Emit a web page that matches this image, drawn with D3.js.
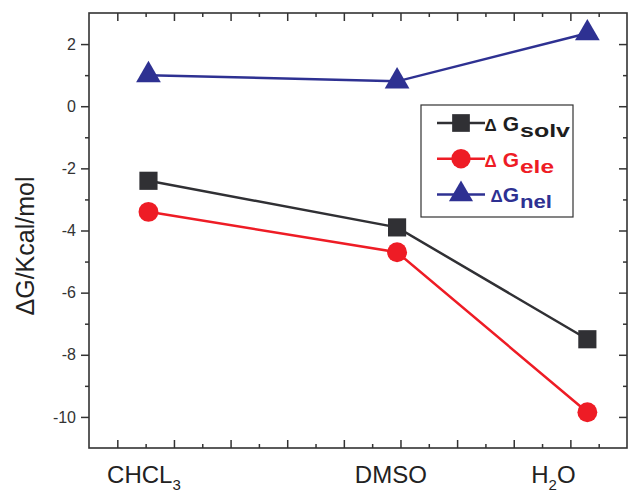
<!DOCTYPE html>
<html>
<head>
<meta charset="utf-8">
<script src="https://cdn.jsdelivr.net/npm/d3@7"></script>
<style>
  html, body { margin: 0; padding: 0; background: #fff; }
  svg { display: block; font-family: "Liberation Sans", Arial, Helvetica, sans-serif; }
</style>
</head>
<body>
<svg id="chart" width="631" height="492"></svg>
<script>
// Solvents, their positions along the x axis, and the axis label for each
const solvents = ["CHCL3", "DMSO", "H2O"];
const solventPos = [1.55, 5.94, 9.3];
const labelPos = [1.47, 5.83, 8.70];
const labelParts = [
  [["CHCL", 0], ["3", 1]],
  [["DMSO", 0]],
  [["H", 0], ["2", 1], ["O", 0]]
];

// Free energy components (kcal/mol)
const dGsolv = [-2.4, -3.9, -7.5];
const dGele = [-3.4, -4.7, -9.85];
const dGnel = [1.0, 0.8, 2.35];

// Axis ticks
const yMajor = [-10, -8, -6, -4, -2, 0, 2];
const yMinor = [-9, -7, -5, -3, -1, 1];
const xMajor = [1, 2, 3, 4, 5, 6, 7, 8, 9];
const xMinor = [1.5, 2.5, 3.5, 4.5, 5.5, 6.5, 7.5, 8.5, 9.5];

const series = [
  { name: "solv", prefix: "Δ G", values: dGsolv, color: "#303034", text: "#1e1e1e", symbol: d3.symbolSquare, size: 330, subLen: 50 },
  { name: "ele",  prefix: "Δ G", values: dGele,  color: "#ee1c25", text: "#ee1c25", symbol: d3.symbolCircle, size: 310, subLen: 34 },
  { name: "nel",  prefix: "ΔG",  values: dGnel,  color: "#2e3192", text: "#2e3192", symbol: d3.symbolTriangle, size: 265, subLen: 32 }
];

const svg = d3.select("#chart");
const L = 89, R = 627, T = 13, B = 448;
const axisColor = "#333";

const x = d3.scaleLinear().domain([0.5, 10]).range([L, R]);
const y = d3.scaleLinear().domain([-11, 3]).range([B, T]);

function styleAxis(g) {
  g.select(".domain").remove();
  g.selectAll(".tick line").attr("stroke", axisColor).attr("stroke-width", 1.5);
  g.selectAll(".tick text").attr("fill", axisColor).attr("font-size", 16)
    .attr("font-family", "'Liberation Sans', Arial, sans-serif");
}

// Left axis with labels (ticks outward), plain hyphen for negatives
svg.append("g").attr("transform", `translate(${L},0)`)
  .call(d3.axisLeft(y).tickValues(yMajor).tickSize(8).tickPadding(5).tickFormat(d => String(d)))
  .call(styleAxis);
svg.append("g").attr("transform", `translate(${L},0)`)
  .call(d3.axisLeft(y).tickValues(yMinor).tickSize(4).tickFormat(""))
  .call(styleAxis);

// Right axis mirror (ticks inward)
svg.append("g").attr("transform", `translate(${R},0)`)
  .call(d3.axisLeft(y).tickValues(yMajor).tickSize(8).tickFormat(""))
  .call(styleAxis);
svg.append("g").attr("transform", `translate(${R},0)`)
  .call(d3.axisLeft(y).tickValues(yMinor).tickSize(4).tickFormat(""))
  .call(styleAxis);

// Bottom axis (ticks inward)
svg.append("g").attr("transform", `translate(0,${B})`)
  .call(d3.axisTop(x).tickValues(xMajor).tickSize(8).tickFormat(""))
  .call(styleAxis);
svg.append("g").attr("transform", `translate(0,${B})`)
  .call(d3.axisTop(x).tickValues(xMinor).tickSize(4).tickFormat(""))
  .call(styleAxis);

// Top axis mirror (ticks inward)
svg.append("g").attr("transform", `translate(0,${T})`)
  .call(d3.axisBottom(x).tickValues(xMajor).tickSize(8).tickFormat(""))
  .call(styleAxis);
svg.append("g").attr("transform", `translate(0,${T})`)
  .call(d3.axisBottom(x).tickValues(xMinor).tickSize(4).tickFormat(""))
  .call(styleAxis);

// Frame
svg.append("rect")
  .attr("x", L).attr("y", T).attr("width", R - L).attr("height", B - T)
  .attr("fill", "none").attr("stroke", axisColor).attr("stroke-width", 1.6);

// Solvent names under the axis, with subscripts
const xl = svg.append("g").attr("font-size", 24).attr("fill", "#222");
labelParts.forEach((parts, i) => {
  const t = xl.append("text")
    .attr("x", x(labelPos[i])).attr("y", 483)
    .attr("text-anchor", "middle");
  let shifted = false;
  parts.forEach(([s, sub]) => {
    const ts = t.append("tspan").text(s);
    if (sub && !shifted) { ts.attr("font-size", 15).attr("dy", 7); shifted = true; }
    else if (!sub && shifted) { ts.attr("dy", -7); shifted = false; }
  });
});

// Y axis title
svg.append("text")
  .attr("transform", `translate(34,246) rotate(-90)`)
  .attr("text-anchor", "middle")
  .attr("font-size", 25)
  .attr("fill", "#222")
  .text("ΔG/Kcal/mol");

// Series lines and markers
const line = d3.line().x((d, i) => x(solventPos[i])).y(d => y(d));
series.forEach(s => {
  svg.append("path")
    .datum(s.values)
    .attr("d", line)
    .attr("fill", "none")
    .attr("stroke", s.color)
    .attr("stroke-width", 2.5);
  svg.append("g").selectAll("path")
    .data(s.values)
    .join("path")
    .attr("transform", (d, i) => `translate(${x(solventPos[i])},${y(d)})`)
    .attr("d", d3.symbol(s.symbol, s.size))
    .attr("fill", s.color);
});

// Legend
const lg = svg.append("g");
lg.append("rect")
  .attr("x", 421).attr("y", 105).attr("width", 152).attr("height", 112)
  .attr("fill", "#fff").attr("stroke", axisColor).attr("stroke-width", 1.2);

series.forEach((s, i) => {
  const base = 131 + i * 35.7;
  const my = base - 8;
  lg.append("line")
    .attr("x1", 437).attr("x2", 485).attr("y1", my).attr("y2", my)
    .attr("stroke", s.color).attr("stroke-width", 2.5);
  lg.append("path")
    .attr("transform", `translate(461,${my})`)
    .attr("d", d3.symbol(s.symbol, s.size * 0.95))
    .attr("fill", s.color);
  const pre = lg.append("text")
    .attr("x", 519).attr("y", base)
    .attr("text-anchor", "end")
    .attr("font-weight", "bold")
    .attr("fill", s.text);
  const [delta, rest] = [s.prefix[0], s.prefix.slice(1)];
  pre.append("tspan").attr("font-size", 17).text(delta);
  pre.append("tspan").attr("font-size", 21).text(rest);
  lg.append("text")
    .attr("x", 520).attr("y", base + 6)
    .attr("font-size", 19)
    .attr("font-weight", "bold")
    .attr("fill", s.text)
    .attr("textLength", s.subLen)
    .attr("lengthAdjust", "spacingAndGlyphs")
    .text(s.name);
});
</script>
</body>
</html>
